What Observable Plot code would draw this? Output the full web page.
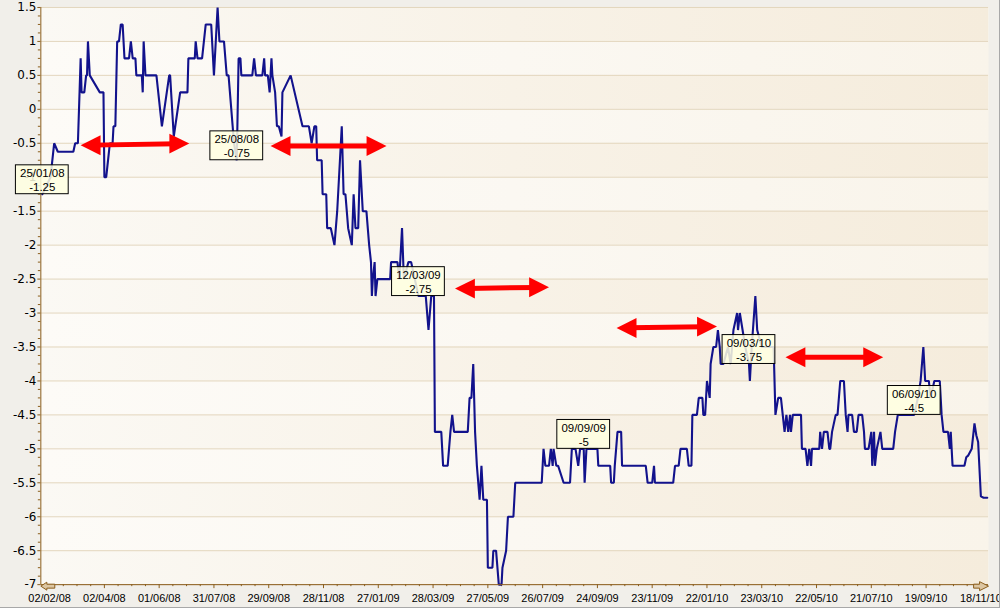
<!DOCTYPE html>
<html><head><meta charset="utf-8">
<script src="https://cdn.jsdelivr.net/npm/d3@7"></script>
<script src="https://cdn.jsdelivr.net/npm/@observablehq/plot@0.6"></script>
<style>
body{margin:0;background:#fff;}
#wrap{width:999px;height:607px;overflow:hidden;border-right:1px solid #a8a8a8;border-bottom:1px solid #a8a8a8;}
</style></head><body><div id="wrap"></div>
<script>
// ---- series ----
const dates = [
"2008-01-25","2008-02-03","2008-02-07","2008-02-11","2008-02-28","2008-03-01","2008-03-04","2008-03-07","2008-03-08","2008-03-11",
"2008-03-13","2008-03-14","2008-03-15","2008-03-17","2008-03-28","2008-04-01","2008-04-02","2008-04-04","2008-04-08","2008-04-11",
"2008-04-12","2008-04-14","2008-04-16","2008-04-18","2008-04-20","2008-04-22","2008-04-24","2008-04-29","2008-05-01","2008-05-03",
"2008-05-06","2008-05-07","2008-05-13","2008-05-14","2008-05-15","2008-05-17","2008-05-29","2008-06-04","2008-06-12","2008-06-13",
"2008-06-17","2008-06-24","2008-07-02","2008-07-03","2008-07-10","2008-07-11","2008-07-13","2008-07-18","2008-07-22","2008-07-28",
"2008-07-31","2008-08-04","2008-08-06","2008-08-11","2008-08-14","2008-08-16","2008-08-22","2008-08-25","2008-08-27","2008-08-29",
"2008-08-30","2008-09-11","2008-09-13","2008-09-15","2008-09-22","2008-09-24","2008-09-25","2008-09-28","2008-09-30","2008-10-02",
"2008-10-03","2008-10-06","2008-10-08","2008-10-10","2008-10-13","2008-10-14","2008-10-23","2008-11-05","2008-11-12","2008-11-15",
"2008-11-18","2008-11-20","2008-11-21","2008-11-26","2008-11-27","2008-12-01","2008-12-02","2008-12-06","2008-12-10","2008-12-13",
"2008-12-18","2008-12-20","2008-12-22","2008-12-25","2008-12-29","2008-12-31","2009-01-02","2009-01-05","2009-01-07","2009-01-10",
"2009-01-14","2009-01-17","2009-01-19","2009-01-20","2009-01-21","2009-01-23","2009-01-24","2009-01-26","2009-02-09","2009-02-10",
"2009-02-17","2009-02-19","2009-02-22","2009-02-24","2009-03-01","2009-03-04","2009-03-12","2009-03-20","2009-03-23","2009-03-26",
"2009-03-29","2009-03-30","2009-04-06","2009-04-08","2009-04-13","2009-04-16","2009-04-18","2009-04-20","2009-05-05","2009-05-07",
"2009-05-09","2009-05-11","2009-05-13","2009-05-15","2009-05-18","2009-05-20","2009-05-22","2009-05-26","2009-05-27","2009-06-01",
"2009-06-02","2009-06-05","2009-06-08","2009-06-11","2009-06-12","2009-06-16","2009-06-18","2009-06-24","2009-06-26","2009-07-25",
"2009-07-27","2009-07-29","2009-08-02","2009-08-04","2009-08-06","2009-08-07","2009-08-10","2009-08-12","2009-08-18","2009-08-25",
"2009-08-27","2009-08-31","2009-09-03","2009-09-05","2009-09-09","2009-09-10","2009-09-12","2009-09-24","2009-09-25","2009-10-08",
"2009-10-09","2009-10-12","2009-10-13","2009-10-16","2009-10-20","2009-10-21","2009-11-16","2009-11-18","2009-11-23","2009-11-25",
"2009-11-26","2009-12-16","2009-12-18","2009-12-22","2009-12-24","2009-12-31","2010-01-02","2010-01-05","2010-01-06","2010-01-11",
"2010-01-13","2010-01-17","2010-01-18","2010-01-20","2010-01-22","2010-01-25","2010-01-26","2010-01-29","2010-02-01","2010-02-03",
"2010-02-05","2010-02-06","2010-02-09","2010-02-14","2010-02-17","2010-02-20","2010-02-24","2010-02-25","2010-02-27","2010-03-02",
"2010-03-05","2010-03-09","2010-03-10","2010-03-12","2010-03-16","2010-03-18","2010-03-23","2010-04-05","2010-04-07","2010-04-10",
"2010-04-13","2010-04-15","2010-04-17","2010-04-19","2010-04-21","2010-04-23","2010-04-24","2010-04-26","2010-05-05","2010-05-06",
"2010-05-10","2010-05-12","2010-05-14","2010-05-16","2010-05-17","2010-05-25","2010-05-26","2010-05-28","2010-05-30","2010-06-03",
"2010-06-05","2010-06-06","2010-06-08","2010-06-12","2010-06-14","2010-06-17","2010-06-21","2010-06-23","2010-06-25","2010-06-26",
"2010-06-30","2010-07-02","2010-07-05","2010-07-07","2010-07-11","2010-07-13","2010-07-14","2010-07-18","2010-07-21","2010-07-22",
"2010-07-24","2010-07-25","2010-07-27","2010-07-31","2010-08-02","2010-08-14","2010-08-16","2010-08-19","2010-09-06","2010-09-10",
"2010-09-13","2010-09-16","2010-09-18","2010-09-22","2010-09-24","2010-09-28","2010-10-04","2010-10-06","2010-10-08","2010-10-13",
"2010-10-15","2010-10-16","2010-10-18","2010-10-31","2010-11-02","2010-11-04","2010-11-08","2010-11-11","2010-11-13","2010-11-15",
"2010-11-18","2010-11-21","2010-11-25"
];
const values = [
-1.25,-1,-0.5,-0.625,-0.625,-0.5,-0.5,0.75,0.25,0.25,
0.5,0.5,1,0.5,0.25,0.25,-1,-1,-0.5,-0.5,
-0.25,-0.25,1,1,1.25,1.25,0.75,0.75,1,0.75,
0.75,0.5,0.5,0.25,1,0.5,0.5,-0.25,0.5,0.5,
-0.4,0.25,0.25,0.75,0.75,1,0.75,0.75,1.25,1.25,
0.5,1.5,1,1,0.5,0.5,-0.5,-0.75,0.75,0.75,
0.5,0.5,0.75,0.5,0.5,0.75,0.5,0.5,0.25,0.75,
0.5,0.25,-0.25,-0.25,-0.4,0.25,0.5,-0.25,-0.25,-0.5,
-0.25,-0.25,-0.75,-0.75,-1.25,-1.25,-1.75,-1.75,-2,-1.5,
-0.25,-1.25,-1.25,-1.75,-2,-1.25,-1.75,-1.75,-0.75,-1.5,
-1.5,-2,-2.25,-2.75,-2.5,-2.25,-2.75,-2.5,-2.5,-2.25,
-2.25,-2.5,-1.75,-2.5,-2.25,-2.25,-2.75,-2.75,-3.25,-2.75,
-2.75,-4.75,-4.75,-5.25,-5.25,-4.75,-4.5,-4.75,-4.75,-4.25,
-4.25,-3.75,-4.75,-5.25,-5.75,-5.25,-5.75,-5.75,-6.75,-6.75,
-6.5,-6.5,-7,-7,-6.75,-6.5,-6,-6,-5.5,-5.5,
-5,-5.25,-5.25,-5,-5.25,-5,-5.25,-5.25,-5.5,-5.5,
-5,-5,-5.25,-5,-5,-5.5,-5,-5,-5.25,-5.25,
-5.5,-5.5,-5.25,-4.75,-4.75,-5.25,-5.25,-5.5,-5.5,-5.25,
-5.5,-5.5,-5.25,-5.25,-5,-5,-5.25,-5.25,-4.5,-4.5,
-4.25,-4.25,-4.5,-4.5,-4,-4.25,-3.75,-3.5,-3.5,-3.25,
-3.5,-3.75,-3.75,-3.5,-3.75,-3.25,-3,-3.25,-3,-3.25,
-3.5,-3.75,-4,-3.5,-2.75,-3.25,-3.5,-3.5,-4.5,-4.25,
-4.25,-4.5,-4.75,-4.5,-4.75,-4.5,-4.75,-4.5,-4.5,-5,
-5,-5.25,-5,-5.25,-5,-5,-4.75,-5,-4.75,-4.75,
-5,-5,-4.75,-4.5,-4.5,-4,-4,-4.5,-4.75,-4.5,
-4.5,-4.75,-4.75,-4.5,-4.5,-4.75,-5,-5,-4.75,-5.25,
-4.75,-5.25,-5,-4.75,-5,-5,-4.75,-4.5,-4.5,-4.25,
-4,-3.5,-4,-4,-4.25,-4,-4,-4.5,-4.75,-4.75,
-5,-4.75,-5.25,-5.25,-5.125,-5.1,-5,-4.625,-4.8,-4.9,
-5.7,-5.72,-5.72
];

// ---- annotations ----
const annDates  = ["2008-01-25","2008-08-25","2009-03-12","2009-09-09","2010-03-09","2010-09-06"];
const annValues = [-1.25, -0.75, -2.75, -5, -3.75, -4.5];

// ---- red double arrows ----
const arrowStart  = ["2008-03-07","2008-10-01","2009-04-21","2009-10-15","2010-04-18"];
const arrowEnd    = ["2008-07-04","2009-02-05","2009-08-02","2010-02-02","2010-08-03"];
const arrowStartY = [-0.53, -0.54, -2.64, -3.22, -3.65];
const arrowEndY   = [-0.505, -0.54, -2.62, -3.20, -3.65];

// ---- axes ----
const xTickLabels = ["02/02/08","02/04/08","01/06/08","31/07/08","29/09/08","28/11/08","27/01/09","28/03/09","27/05/09",
  "26/07/09","24/09/09","23/11/09","22/01/10","23/03/10","22/05/10","21/07/10","19/09/10","18/11/10"];
const yTicks = [1.5,1,0.5,0,-0.5,-1,-1.5,-2,-2.5,-3,-3.5,-4,-4.5,-5,-5.5,-6,-6.5,-7];
const xDomain = ["2008-01-23T09:36Z","2010-11-26T09:36Z"];
const darkBandStarts = [-7,-6,-5,-4,-3,-2,-1,0,1];

const parse = d3.utcParse("%d/%m/%y");
const fmt = d3.utcFormat("%d/%m/%y");
const series = dates.map((d, i) => ({date: new Date(d), value: values[i]}));
const anns = annDates.map((d, i) => ({date: new Date(d), value: annValues[i], text: fmt(new Date(d)) + "\n" + annValues[i]}));
const arrows = arrowStart.map((d, i) => ({x1: new Date(d), x2: new Date(arrowEnd[i]), y1: arrowStartY[i], y2: arrowEndY[i]}));
const xTicks = xTickLabels.map(parse);
const xMinor = [];
xTicks.forEach(t => [15, 30, 45].forEach(k => { const m = d3.utcDay.offset(t, k); if (m < new Date(xDomain[1])) xMinor.push(m); }));
const yMinor = d3.range(-7, 1.5001, 0.125).filter(v => Math.abs(v * 2 - Math.round(v * 2)) > 1e-6);

const brown = "#8b5e1c";
const font = "'Liberation Sans', Arial, sans-serif";

const leftHead = {draw(c){ c.moveTo(0,0); c.lineTo(20,-10); c.lineTo(20,10); c.closePath(); }};
const rightHead = {draw(c){ c.moveTo(0,0); c.lineTo(-20,-10); c.lineTo(-20,10); c.closePath(); }};
const axLeft = {draw(c){ c.moveTo(0,0); c.lineTo(6,-4); c.lineTo(6,-2); c.lineTo(14,-2); c.lineTo(14,2); c.lineTo(6,2); c.lineTo(6,4); c.closePath(); }};
const axRight = {draw(c){ c.moveTo(0,0); c.lineTo(-9,-4.5); c.lineTo(-9,-2); c.lineTo(-15,-2); c.lineTo(-15,2); c.lineTo(-9,2); c.lineTo(-9,4.5); c.closePath(); }};

const chart = Plot.plot({
  width: 1003, height: 610,
  marginLeft: 40.5, marginRight: 11, marginTop: 7, marginBottom: 23.5,
  style: {background: "#f1efea", fontFamily: font, fontSize: "11px", color: "#000", overflow: "visible"},
  x: {type: "utc", domain: xDomain.map(d => new Date(d)), label: null},
  y: {domain: [yTicks[yTicks.length - 1], yTicks[0]], label: null},
  marks: [
    Plot.frame({fill: "url(#bgLight)", stroke: null}),
    Plot.rect(darkBandStarts, {y1: d => d, y2: d => d + 0.5, fill: "url(#bgDark)"}),
    Plot.ruleY(yTicks, {stroke: "#e3d6bd", strokeWidth: 1}),
    Plot.axisY({ticks: yMinor, tickSize: 2.5, tickFormat: () => "", stroke: brown}),
    Plot.axisY({ticks: yTicks, tickSize: 3, tickPadding: 1.5, tickFormat: d => String(d), stroke: brown, fill: "#000", fontSize: 12, fontFamily: "'DejaVu Sans', sans-serif"}),
    Plot.axisX({ticks: xMinor, tickSize: 2, tickFormat: () => "", stroke: brown}),
    Plot.axisX({ticks: xTicks, tickSize: 4, tickPadding: 6, tickFormat: fmt, stroke: brown, fill: "#000", fontSize: 11, fontFamily: font}),
    Plot.line(series, {x: "date", y: "value", stroke: "#12128c", strokeWidth: 2.1, strokeLinejoin: "miter"}),
    Plot.ruleX([new Date(xDomain[0])], {stroke: brown}),
    Plot.ruleY([yTicks[yTicks.length - 1]], {stroke: brown}),
    Plot.dot([new Date(xDomain[0])], {x: d => d, y: () => yTicks[yTicks.length - 1], dy: 1.5, symbol: axLeft, r: 5, fill: "#dcc6a2", stroke: brown, strokeWidth: 1}),
    Plot.dot([new Date(xDomain[1])], {x: d => d, y: () => yTicks[yTicks.length - 1], dy: 1.5, symbol: axRight, r: 5, fill: "#dcc6a2", stroke: brown, strokeWidth: 1}),
    Plot.rect(anns, {x1: "date", x2: "date", y1: "value", y2: "value", insetLeft: -26.5, insetRight: -26.5, insetTop: -29, insetBottom: 0,
      fill: "#ffffe1", fillOpacity: 0.85, stroke: "#000", strokeWidth: 1}),
    Plot.text(anns, {x: "date", y: "value", text: "text", dy: -14.5, lineHeight: 1.22, fontSize: 11.5, fontFamily: font, fill: "#000"}),
    Plot.arrow(arrows, {x1: "x1", y1: "y1", x2: "x2", y2: "y2", stroke: "#ff0000", strokeWidth: 5, headLength: 0, insetStart: 12, insetEnd: 12, ariaLabel: "red-arrow"}),
    Plot.dot(arrows, {x: "x1", y: "y1", symbol: leftHead, fill: "#ff0000", r: 10, ariaLabel: "red-arrow"}),
    Plot.dot(arrows, {x: "x2", y: "y2", symbol: rightHead, fill: "#ff0000", r: 10, ariaLabel: "red-arrow"})
  ]
});

const ns = "http://www.w3.org/2000/svg";
const defs = document.createElementNS(ns, "defs");
defs.innerHTML = `
<linearGradient id="bgLight" x1="0" x2="1" y1="0" y2="0">
  <stop offset="0" stop-color="#fdfbf7"/><stop offset="0.5" stop-color="#fbf8f2"/><stop offset="1" stop-color="#f9f4ea"/>
</linearGradient>
<linearGradient id="bgDark" x1="0" x2="1" y1="0" y2="0">
  <stop offset="0" stop-color="#fbf9f4"/><stop offset="0.5" stop-color="#f8f2e7"/><stop offset="1" stop-color="#f5ecdc"/>
</linearGradient>
<filter id="shadow" x="-10%" y="-30%" width="130%" height="180%">
  <feDropShadow dx="5" dy="6" stdDeviation="3" flood-color="#000" flood-opacity="0.5"/>
</filter>`;
chart.insertBefore(defs, chart.firstChild);
const groups = chart.querySelectorAll('g[aria-label="red-arrow"]');
if (groups.length) {
  const wrap = document.createElementNS(ns, "g");
  wrap.setAttribute("filter", "url(#shadow)");
  groups[0].parentNode.insertBefore(wrap, groups[0]);
  groups.forEach(g => wrap.appendChild(g));
}
document.getElementById("wrap").appendChild(chart);
</script>
</body></html>
